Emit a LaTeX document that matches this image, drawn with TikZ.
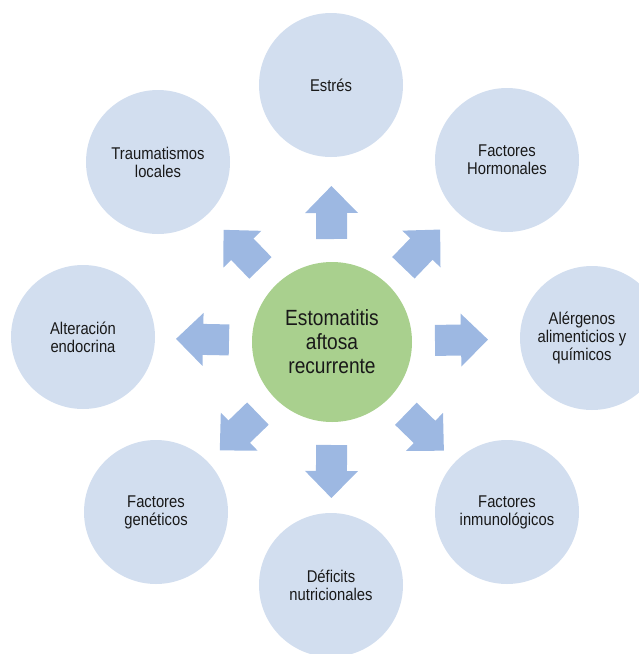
\documentclass[tikz,border=0pt]{standalone}
\usepackage{fontspec}
\setmainfont{Liberation Sans}[FakeStretch=0.87]
\usetikzlibrary{calc}

\definecolor{circblue}{RGB}{210,222,239}
\definecolor{arrowblue}{RGB}{157,184,226}
\definecolor{hubgreen}{RGB}{169,208,142}
\definecolor{inktext}{RGB}{25,25,25}

% block arrow pointing from the hub (c) towards node #1
\newcommand\blockarrow[1]{%
  \fill[arrowblue]
    ($(c)!103pt!(#1)!15.5pt!90:(#1)$) --
    ($(c)!129pt!(#1)!15.5pt!90:(#1)$) --
    ($(c)!129pt!(#1)!26.5pt!90:(#1)$) --
    ($(c)!156pt!(#1)$) --
    ($(c)!129pt!(#1)!26.5pt!-90:(#1)$) --
    ($(c)!129pt!(#1)!15.5pt!-90:(#1)$) --
    ($(c)!103pt!(#1)!15.5pt!-90:(#1)$) -- cycle;}

\begin{document}
\begin{tikzpicture}[x=1pt,y=-1pt,
  outer/.style={circle,fill=circblue,minimum size=144pt,inner sep=0pt,
    align=center,text=inktext,font=\fontsize{17}{18}\selectfont},
  txt/.style={align=center,text=inktext,font=\fontsize{17}{18}\selectfont},
  hub/.style={circle,fill=hubgreen,minimum size=160pt,inner sep=0pt,
    align=center,text=inktext,font=\fontsize{22}{24}\selectfont}]
\useasboundingbox (0,0) rectangle (639,654);
\begin{scope}
\clip (0,0) rectangle (639,654);

% hub
\node[hub] (c) at (332,342) {Estomatitis\\aftosa\\recurrente};

% surrounding factors
\node[outer] (estres) at (331,85)  {Estrés};
\node[outer] (horm)   at (507,160) {Factores\\Hormonales};
\node[outer] (alerg)  at (592,338) {};
\node[txt]   (alergt) at (582,338) {Alérgenos\\alimenticios y\\químicos};
\node[outer] (inmun)  at (507,512) {Factores\\inmunológicos};
\node[outer] (defic)  at (331,585) {Déficits\\nutricionales};
\node[outer] (genet)  at (156,512) {Factores\\genéticos};
\node[outer] (alter)  at (83,337)  {Alteración\\endocrina};
\node[outer] (traum)  at (158,162) {Traumatismos\\locales};

% arrows radiating from the hub
\foreach \n in {estres,horm,alerg,inmun,defic,genet,alter,traum}
  {\blockarrow{\n}}
\end{scope}
\end{tikzpicture}
\end{document}
